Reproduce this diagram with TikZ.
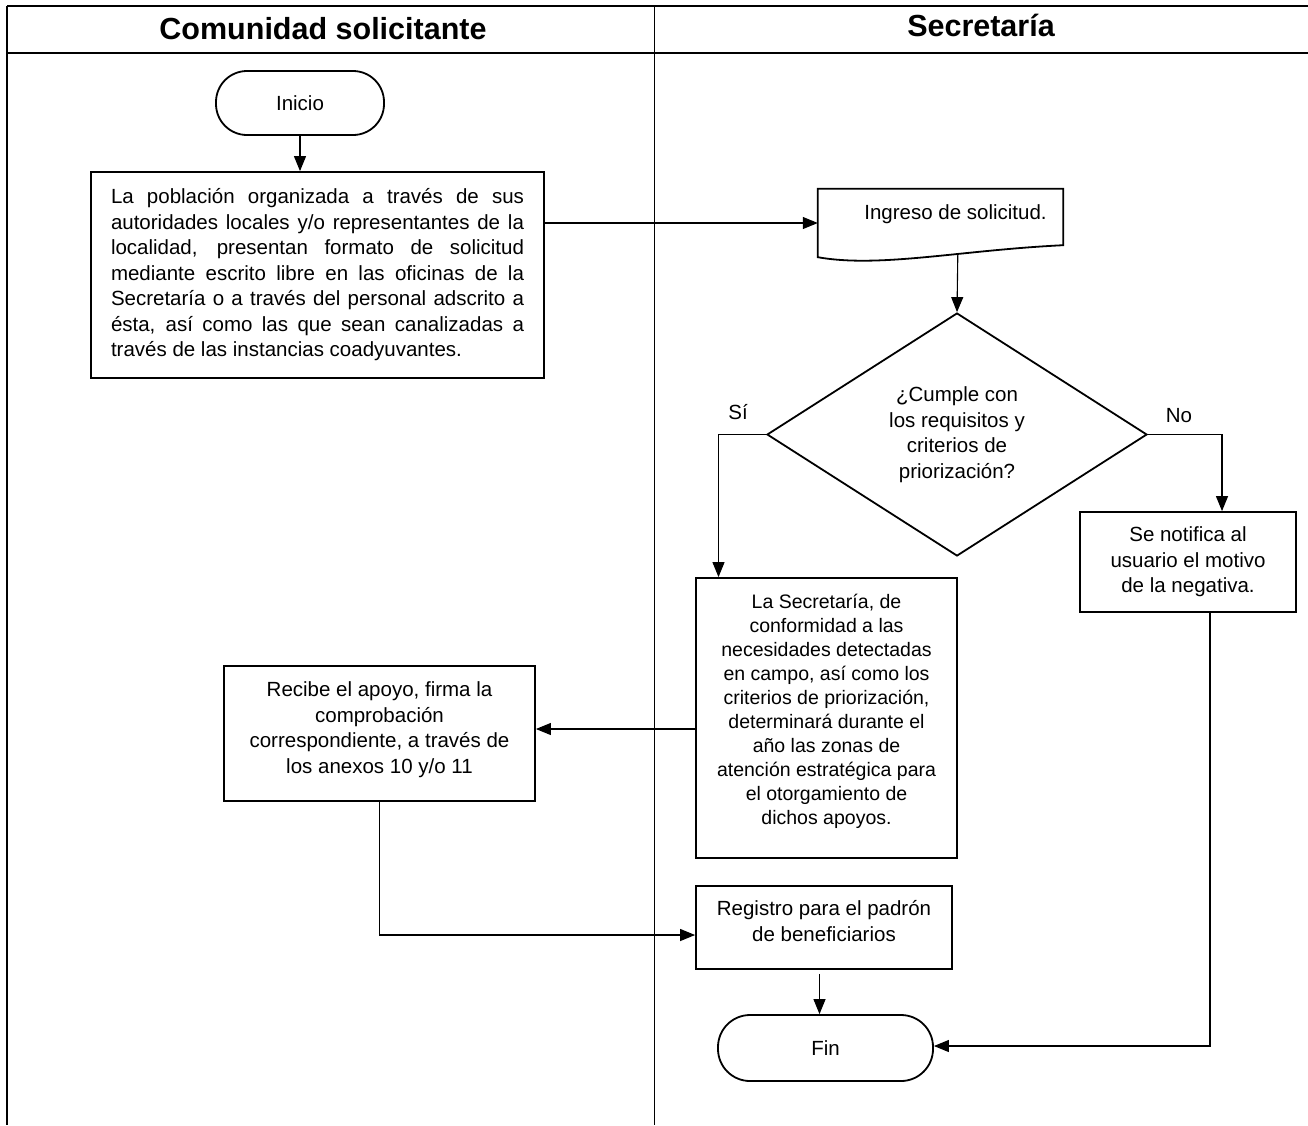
\documentclass[tikz,border=0pt]{standalone}
\usepackage{fontspec}
\setmainfont{Liberation Sans}
\usetikzlibrary{arrows.meta,calc,shapes.geometric}
\begin{document}
\begin{tikzpicture}[x=1pt,y=-1pt,
  txt/.style={font=\fontsize{20.5}{25.5}\selectfont},
  box/.style={txt, draw, line width=1.8pt, inner sep=0pt, align=center},
  term/.style={box, rounded corners=31pt},
  conn/.style={line width=1.1pt, -{Triangle[length=15pt,width=12pt]}},
  lane/.style={line width=1.8pt},
  head/.style={font=\bfseries\fontsize{30.5}{36}\selectfont}
]
\useasboundingbox (0,0) rectangle (1308,1125);

% lanes
\draw[lane] (7,6) -- (1308,6);
\draw[lane] (7,53) -- (1308,53);
\draw[line width=1.4pt] (7,6) -- (7,1125);
\draw[line width=1pt] (654,6) -- (654,1125);
\node[head] (h1) at (323,29) {Comunidad solicitante};
\node[head] (h2) at (981,25) {Secretaría};

% nodes
\node[term, minimum width=168pt, minimum height=64pt] (inicio) at (300,103) {Inicio};

\node[box, minimum width=453pt, minimum height=206pt, align=left] (box1) at (317.5,275) {%
\makebox[413pt][s]{La población organizada a través de sus}\\
\makebox[413pt][s]{autoridades locales y/o representantes de la}\\
\makebox[413pt][s]{localidad, presentan formato de solicitud}\\
\makebox[413pt][s]{mediante escrito libre en las oficinas de la}\\
\makebox[413pt][s]{Secretaría o a través del personal adscrito a}\\
\makebox[413pt][s]{ésta, así como las que sean canalizadas a}\\
través de las instancias coadyuvantes.};

\node[txt, inner sep=0pt, minimum width=245pt, minimum height=68pt, align=center] (ingreso) at (940.5,223) {\hspace*{30pt}Ingreso de solicitud.\\[-4pt]\mbox{}};
\draw[line width=1.8pt] (ingreso.north west) -- (ingreso.north east) -- ($(ingreso.south east)+(0,-12)$)
  .. controls ($(ingreso.south west)+(142,-7)$) and ($(ingreso.south west)+(62,11)$) .. (ingreso.south west) -- cycle;
\coordinate (docbot) at ($(ingreso.south west)+(140,-3)$);

\node[txt, diamond, draw, line width=1.8pt, inner sep=0pt, aspect=1.56, minimum width=380pt, minimum height=243pt, align=center] (dq) at (957,434.5)
  {¿Cumple con\\los requisitos y\\criterios de\\priorización?};

\node[txt] (si) at (738,412) {Sí};
\node[txt] (no) at (1179,416) {No};

\node[box, minimum width=216pt, minimum height=100pt] (notify) at (1188,562) {Se notifica al\\usuario el motivo\\de la negativa.};

\node[box, font=\fontsize{19.5}{24}\selectfont, minimum width=261pt, minimum height=280pt] (box2) at (826.5,718) {%
La Secretaría, de\\conformidad a las\\necesidades detectadas\\en campo, así como los\\criterios de priorización,\\determinará durante el\\año las zonas de\\atención estratégica para\\el otorgamiento de\\dichos apoyos.\\[-6pt]\mbox{}};

\node[box, minimum width=311pt, minimum height=135pt] (recibe) at (379.5,733.5) {Recibe el apoyo, firma la\\comprobación\\correspondiente, a través de\\los anexos 10 y/o 11\\[-14pt]\mbox{}};

\node[box, minimum width=256pt, minimum height=83pt] (registro) at (824,927.5) {Registro para el padrón\\de beneficiarios\\[-12pt]\mbox{}};

\node[term, minimum width=215pt, minimum height=66pt, rounded corners=32pt] (fin) at (825.5,1048) {Fin};

% connectors
\coordinate (b2out) at ([yshift=-11pt]box2.west);
\coordinate (regin) at ([yshift=-7.5pt]registro.west);
\coordinate (finin) at ([yshift=2pt]fin.east);
\coordinate (finup) at ([xshift=-6pt]fin.north);
\draw[conn] (inicio.south) -- (inicio.south |- box1.north);
\draw[conn] (box1.east |- ingreso.west) -- (ingreso.west);
\draw[conn] (docbot) -- (dq.north);
\draw[conn] (dq.west) -| ([xshift=-108pt]box2.north);
\draw[conn] (dq.east) -| ([xshift=34pt]notify.north);
\draw[conn] (b2out) -- (recibe.east |- b2out);
\draw[conn] (recibe.south) |- (regin);
\draw[conn] ([yshift=-4pt]finup |- registro.south) -- (finup);
\draw[conn] ([xshift=22pt]notify.south) |- (finin);
\end{tikzpicture}
\end{document}
